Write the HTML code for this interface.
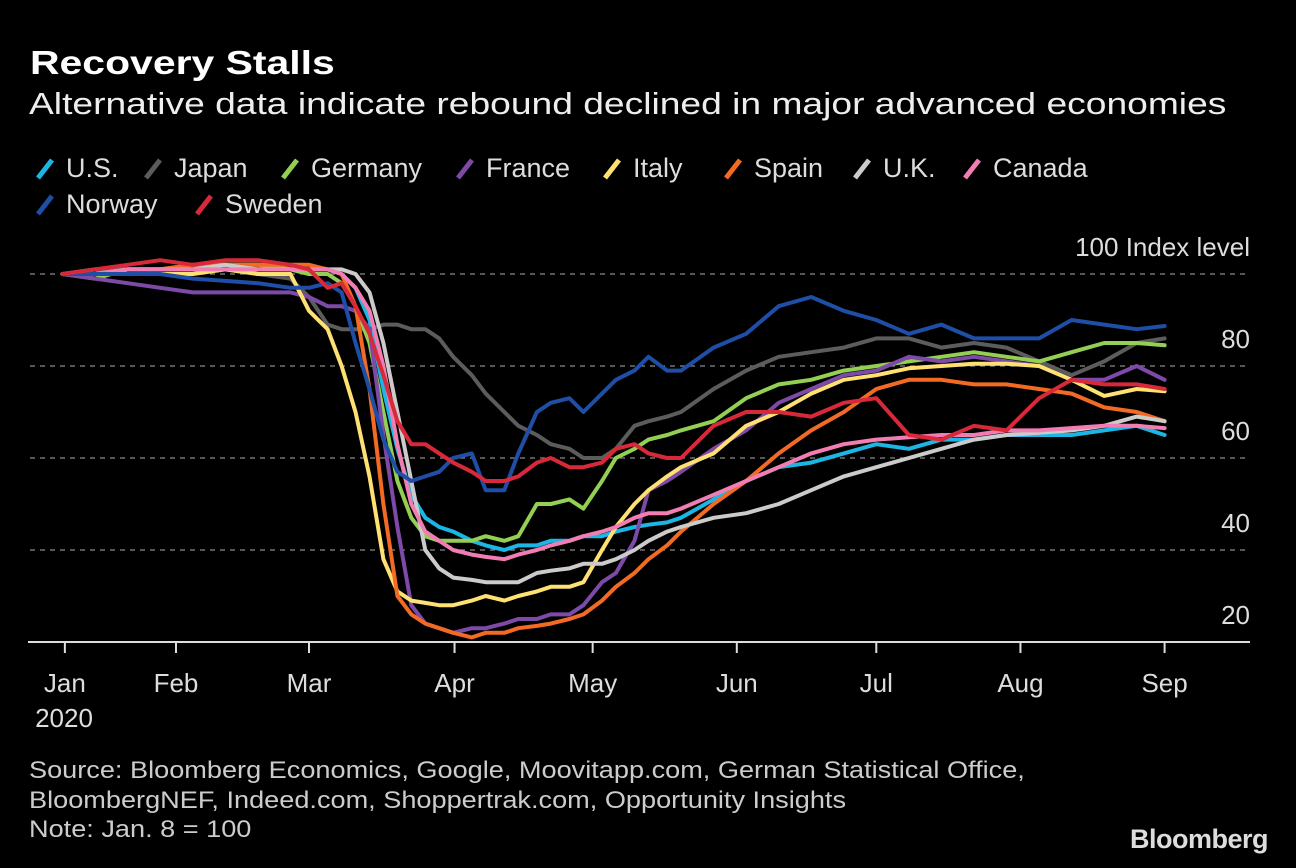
<!DOCTYPE html>
<html><head><meta charset="utf-8">
<style>
html,body{margin:0;padding:0;background:#000;}
body{width:1296px;height:868px;overflow:hidden;position:relative;font-family:"Liberation Sans",sans-serif;color:#fff;}
.t{position:absolute;white-space:nowrap;transform-origin:0 0;}
</style></head>
<body>
<div class="t" style="left:30px;top:44px;font-size:33px;font-weight:bold;transform:scaleX(1.24);">Recovery Stalls</div>
<div class="t" style="left:29px;top:86px;font-size:31px;color:#eee;transform:scaleX(1.2);">Alternative data indicate rebound declined in major advanced economies</div>
<svg id="chart" width="1296" height="868" style="position:absolute;left:0;top:0;"></svg>
<div class="t" style="left:29px;top:756px;font-size:24px;line-height:29.5px;color:#ccc;transform:scaleX(1.13);">Source: Bloomberg Economics, Google, Moovitapp.com, German Statistical Office,<br>BloombergNEF, Indeed.com, Shoppertrak.com, Opportunity Insights<br>Note: Jan. 8 = 100</div>
<div class="t" style="right:28px;top:824px;font-size:27px;font-weight:bold;color:#ddd;letter-spacing:-0.5px;">Bloomberg</div>
<script>
const days=[7,14,21,28,35,42,49,56,60,64,67,70,73,76,79,82,85,88,91,95,98,102,105,109,112,116,119,123,126,130,133,137,140,147,154,161,168,175,182,189,196,203,210,217,224,231,238,244];
const seriesNames=["U.S.","Japan","Germany","France","Italy","Spain","U.K.","Canada","Norway","Sweden"];
const usValues=[100,101,101,101,101,101,101,101,101,101,100,97,90,75,62,52,47,45,44,42,41,40,41,41,42,42,43,43,44,45,45.5,46,47,51,55,58,59,61,63,62,64,64,65,65,65,66,67,65];
const japanValues=[100,101,101,101,101,101,100,99,95,89,88,88,88,89,89,88,88,86,82,78,74,70,67,65,63,62,60,60,62,67,68,69,70,75,79,82,83,84,86,86,84,85,84,81,78,81,85,86];
const germanyValues=[100,99,101,101,102,102,102,101,100,100,98,93,85,70,55,47,43,42,42,42,43,42,43,50,50,51,49,55,60,62,64,65,66,68,73,76,77,79,80,81,82,83,82,81,83,85,85,84.5];
const franceValues=[100,99,98,97,96,96,96,96,95,93,93,92,88,65,45,28,24,23,22,23,23,24,25,25,26,26,28,33,35,42,53,55,57,62,66,72,75,78,79,82,81,82,81,80,77,77,80,77];
const italyValues=[100,100,100,100,100,101,100,100,92,88,80,70,56,38,31,29,28.5,28,28,29,30,29,30,31,32,32,33,40,45,50,53,56,58,61,67,70,74,77,78,79.5,80,80.5,80.5,80,77,73.5,75,74.5];
const spainValues=[100,100,101,101,102,102,102,102,102,101,100,93,75,50,30,26,24,23,22,21,22,22,23,23.5,24,25,26,29,32,35,38,41,44,50,55,61,66,70,75,77,77,76,76,75,74,71,70,68];
const ukValues=[100,100,101,101,101,102,101,101,101,101,101,100,96,85,70,55,40,36,34,33.5,33,33,33,35,35.5,36,37,37,38,40,42,44,45,47,48,50,53,56,58,60,62,64,65,65.5,66,67,69,68];
const canadaValues=[100,100,101,101,101,101,101,101,101,101,100,97,92,80,63,50,44,42,40,39,38.5,38,39,40,41,42,43,44,45,47,48,48,49,52,55,58,61,63,64,64.5,65,65,66,66,66.5,67,67,66.5];
const norwayValues=[100,100,100,100,99,98.5,98,97,97,98,96,85,75,64,57,55,56,57,60,61,53,53,61,70,72,73,70,74,77,79,82,79,79,84,87,93,95,92,90,87,89,86,86,86,90,89,88,88.7];
const swedenValues=[100,101,102,103,102,103,103,102,101,97,98,93,87,78,68,63,63,61,59,57,55,55,56,59,60,58,58,59,62,63,61,60,60,67,70,70,69,72,73,65,64,67,66,73,77,76,76,75];
const yTicks=[80,60,40];
const xTickDays=[7.5,31.4,60,91.3,121,152,182,213,244];
const xTickLabels=["Jan","Feb","Mar","Apr","May","Jun","Jul","Aug","Sep"];

const colors=["#1bb6e4","#5c5c5c","#92cf52","#7d4aa8","#ffe072","#f26a24","#cbcbcb","#f27db2","#1f4ea6","#d8293a"];
const allValues=[usValues,japanValues,germanyValues,franceValues,italyValues,spainValues,ukValues,canadaValues,norwayValues,swedenValues];
const X=d=>30+d*4.65;
const Y=v=>274+(100-v)*4.6;
const NS="http://www.w3.org/2000/svg";
const svg=document.getElementById('chart');
function mk(tag,attrs,parent){const e=document.createElementNS(NS,tag);for(const k in attrs)e.setAttribute(k,attrs[k]);(parent||svg).appendChild(e);return e;}

[100].concat(yTicks).forEach(v=>{
  const g=mk('line',{x1:30,x2:1250,y1:Y(v),y2:Y(v),stroke:'#8a8a8a','stroke-width':1.3,'stroke-dasharray':'5,5'});
  
  
});
const lab=mk('text',{x:1250,y:Y(100)-18,'text-anchor':'end','font-size':26,fill:'#ddd','font-family':'Liberation Sans, sans-serif'});
lab.textContent='100  Index level';


yTicks.concat([20]).forEach(v=>{
  const t=mk('text',{x:1250,y:Y(v)-18,'text-anchor':'end','font-size':26,fill:'#ddd','font-family':'Liberation Sans, sans-serif'});
  t.textContent=v;
  
  
});
const ax=mk('line',{x1:28,x2:1250,y1:642,y2:642,stroke:'#ddd','stroke-width':2});


xTickDays.forEach((d,i)=>{
  const tk=mk('line',{x1:X(d),x2:X(d),y1:642,y2:653,stroke:'#ddd','stroke-width':2});
  
  
  const t=mk('text',{x:X(d),y:692,'text-anchor':'middle','font-size':26,fill:'#ddd','font-family':'Liberation Sans, sans-serif'});
  t.textContent=xTickLabels[i];
  
  
});
const yr=mk('text',{x:64,y:727,'text-anchor':'middle','font-size':26,fill:'#ddd','font-family':'Liberation Sans, sans-serif'});
yr.textContent='2020';



allValues.forEach((vals,si)=>{
  const pts=vals.map((v,i)=>X(days[i]).toFixed(1)+','+Y(v).toFixed(1)).join(' ');
  const p=mk('polyline',{points:pts,fill:'none',stroke:colors[si],'stroke-width':4,'stroke-linejoin':'round','stroke-linecap':'round'});
  
  
});

const legendPos=[[38,158],[146,158],[283,158],[458,158],[605,158],[726,158],[855,158],[965,158],[38,194],[197,194]];
seriesNames.forEach((n,i)=>{
  const [lx,ly]=legendPos[i];
  const g=mk('g',{});
  
  
  mk('line',{x1:lx,y1:ly+20,x2:lx+14,y2:ly+2,stroke:colors[i],'stroke-width':5},g);
  const t=mk('text',{x:lx+28,y:ly+19,'font-size':27,fill:'#ddd','font-family':'Liberation Sans, sans-serif'},g);
  t.textContent=n;
});
</script>
</body></html>
